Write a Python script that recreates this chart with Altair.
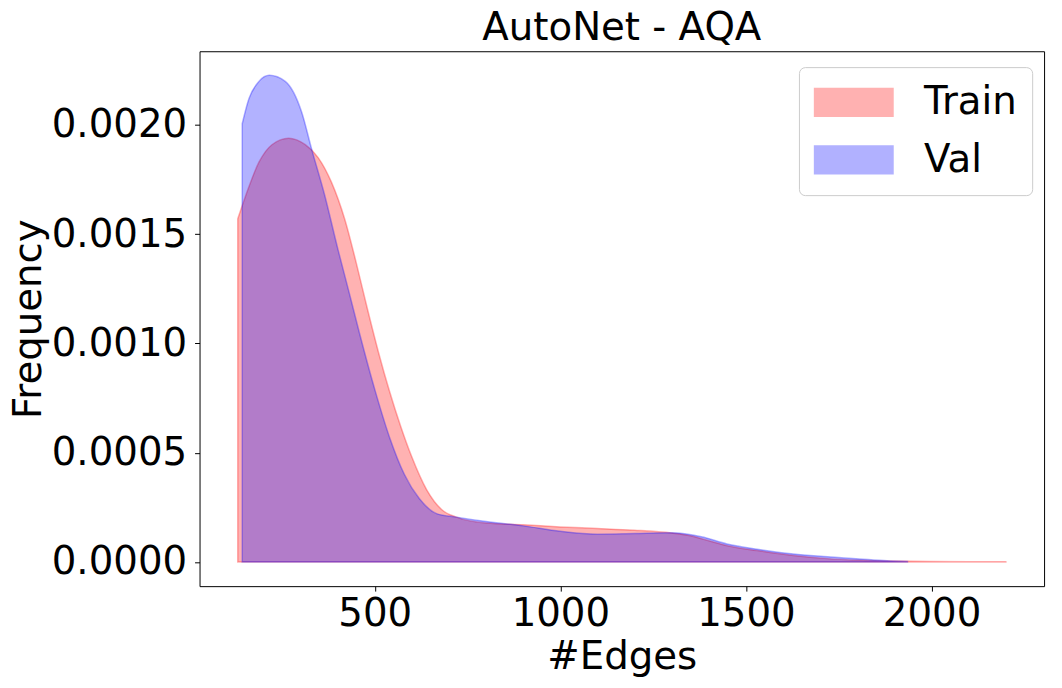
import altair as alt
import pandas as pd

# Train (red) density curve
train_x = [131, 153, 188, 223, 268, 313, 348, 383, 419, 450, 480, 510, 540, 570,
           600, 640, 680, 720, 800, 900, 1000, 1100, 1200, 1300, 1350, 1400, 1450,
           1530, 1628, 1720, 1806, 1900, 2000, 2100, 2200]
train_y = [0.001571, 0.00168, 0.00183, 0.00191, 0.00194, 0.00191, 0.00185, 0.00174,
           0.00157, 0.00137, 0.00116, 0.00096, 0.00078, 0.00062, 0.00048, 0.00033,
           0.00024, 0.000205, 0.000178, 0.00017, 0.00016, 0.000153, 0.000145,
           0.000132, 0.00012, 0.000097, 0.000074, 0.000052, 0.000029, 0.000015,
           0.000008, 0.000004, 0.000002, 0.000001, 0.000001]

# Val (blue) density curve
val_x = [143, 161, 188, 216, 259, 303, 330, 365, 401, 430, 460, 500, 540, 580, 620,
         668, 720, 800, 900, 1000, 1100, 1200, 1300, 1380, 1449, 1530, 1628, 1720,
         1806, 1880, 1935]
val_y = [0.002006, 0.00212, 0.00220, 0.002228, 0.00220, 0.00206, 0.00189, 0.00168,
         0.00143, 0.00124, 0.00104, 0.00079, 0.00057, 0.00040, 0.00029, 0.00022,
         0.000205, 0.000185, 0.000165, 0.00014, 0.000127, 0.00013, 0.000133,
         0.000115, 0.000082, 0.000058, 0.000036, 0.000024, 0.0000136, 0.000005,
         0.000002]

series = ["Train", "Val"]
colors = ["#ff0000", "#0000ff"]
x_ticks = [500, 1000, 1500, 2000]
y_ticks = [0.0, 0.0005, 0.0010, 0.0015, 0.0020]

df = pd.concat([
    pd.DataFrame({"edges": train_x, "freq": train_y, "set": "Train", "ord": 0}),
    pd.DataFrame({"edges": val_x, "freq": val_y, "set": "Val", "ord": 1}),
], ignore_index=True)

FONT = "DejaVu Sans"
FS = 39

chart = alt.Chart(df).mark_area(
    fillOpacity=0.3, strokeOpacity=0.3, strokeWidth=1.5, interpolate="monotone"
).encode(
    x=alt.X("edges:Q", title="#Edges",
            scale=alt.Scale(domain=[28, 2303], nice=False, zero=False),
            axis=alt.Axis(values=x_ticks, format="d", labelPadding=4, titlePadding=4)),
    y=alt.Y("freq:Q", title="Frequency", stack=None,
            scale=alt.Scale(domain=[-0.000111, 0.002338], nice=False, zero=False),
            axis=alt.Axis(values=y_ticks, format=".4f", labelPadding=8, titlePadding=3)),
    y2=alt.datum(0),
    color=alt.Color("set:N", scale=alt.Scale(domain=series, range=colors),
                    legend=alt.Legend(
                        title=None, orient="none", legendX=604, legendY=16,
                        symbolType="M-1,-0.708L3,-0.708L3,0.708L-1,0.708Z",
                        symbolSize=1560, symbolOpacity=0.3, symbolStrokeWidth=1.5,
                        labelFontSize=FS, labelFont=FONT, labelOffset=70,
                        rowPadding=17, padding=15, strokeColor="#cccccc",
                        fillColor="white", cornerRadius=6, labelColor="black")),
    stroke=alt.Color("set:N", scale=alt.Scale(domain=series, range=colors), legend=None),
    order=alt.Order("ord:Q"),
).properties(
    width=851, height=539,
    title=alt.TitleParams("AutoNet - AQA", fontSize=FS, font=FONT, fontWeight="normal",
                          offset=3, color="black"),
    autosize=alt.AutoSizeParams(type="none"),
    padding={"left": 193, "top": 41, "right": 10, "bottom": 92},
).configure_view(
    stroke="black", strokeWidth=1
).configure_axis(
    grid=False, domain=False, ticks=True, tickSize=5, tickColor="black", tickWidth=1,
    labelFont=FONT, labelFontSize=FS, labelColor="black",
    titleFont=FONT, titleFontSize=FS, titleFontWeight="normal", titleColor="black",
)

chart.save("out.html", embed_options={"renderer": "svg", "actions": False})
